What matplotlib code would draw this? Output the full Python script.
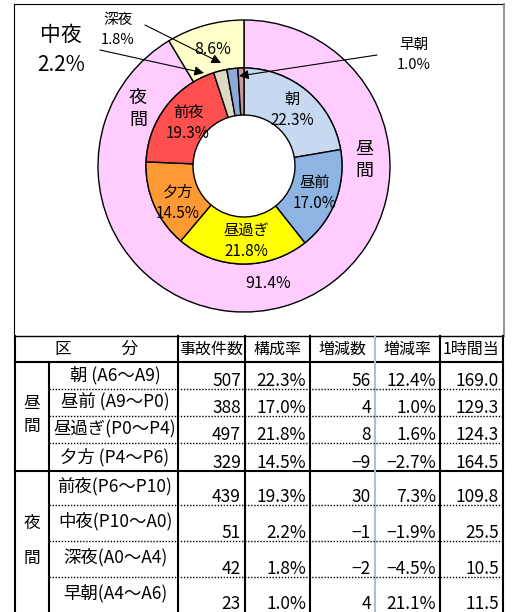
import matplotlib.pyplot as plt

plt.rcParams['font.family'] = ['Noto Sans CJK JP', 'DejaVu Sans']

# donut data
inner_labels = ['朝', '昼前', '昼過ぎ', '夕方', '前夜', '中夜', '深夜', '早朝']
inner_share = [22.3, 17.0, 21.8, 14.5, 19.3, 2.2, 1.8, 1.0]
inner_colors = ['#C6D9F1', '#8DB4E2', '#FFFF00', '#FF9933', '#FF5050',
                '#DDD9C4', '#8EA9D8', '#C89A9A']
outer_labels = ['昼間', '夜間']
outer_share = [91.4, 8.6]
outer_colors = ['#FFCCFF', '#FFFFCC']

# table data
periods = ['朝 (A6～A9)', '昼前 (A9～P0)', '昼過ぎ(P0～P4)', '夕方 (P4～P6)',
           '前夜(P6～P10)', '中夜(P10～A0)', '深夜(A0～A4)', '早朝(A4～A6)']
accidents = [507, 388, 497, 329, 439, 51, 42, 23]
change = [56, 4, 8, -9, 30, -1, -2, 4]
change_rate = [12.4, 1.0, 1.6, -2.7, 7.3, -1.9, -4.5, 21.1]
per_hour = [169.0, 129.3, 124.3, 164.5, 109.8, 25.5, 10.5, 11.5]
headers = ['事故件数', '構成率', '増減数', '増減率', '1時間当']

H = 612


def Y(y):
    return H - y


def sgn(v, fmt):
    s = fmt.format(abs(v))
    return ('−' + s) if v < 0 else s


fig = plt.figure(figsize=(5.12, 6.12), dpi=100)
ax = fig.add_axes([0, 0, 1, 1])

cx, cy = 244, Y(166)
ax.pie(outer_share, radius=146, center=(cx, cy), startangle=90,
       counterclock=False, colors=outer_colors, frame=True,
       wedgeprops=dict(width=48, edgecolor='black', linewidth=1))
ax.pie(inner_share, radius=98, center=(cx, cy), startangle=90,
       counterclock=False, colors=inner_colors, frame=True,
       wedgeprops=dict(width=47, edgecolor='black', linewidth=1))

ax.set_xlim(0, 512)
ax.set_ylim(0, H)
ax.axis('off')

# labels inside the inner ring
inner_pos = [(292, 110), (315, 193), (246, 241), (178, 203), (188, 123)]
for (x, y), lab, v in zip(inner_pos, inner_labels, inner_share):
    ax.text(x, Y(y), f'{lab}\n{v:.1f}%', ha='center', va='center',
            fontsize=11, linespacing=1.35)

ax.text(268, Y(284), f'{outer_share[0]:.1f}%', ha='center', va='center', fontsize=11.5)
ax.text(213, Y(50), f'{outer_share[1]:.1f}%', ha='center', va='center', fontsize=11.5)
ax.text(364, Y(160), '昼\n間', ha='center', va='center', fontsize=13, linespacing=1.3)
ax.text(138, Y(109), '夜\n間', ha='center', va='center', fontsize=13, linespacing=1.3)

# small slices with arrows
ax.text(61, Y(50), f'{inner_labels[5]}\n{inner_share[5]:.1f}%', ha='center',
        va='center', fontsize=15, linespacing=1.45)
ax.text(118, Y(30), f'{inner_labels[6]}\n{inner_share[6]:.1f}%', ha='center',
        va='center', fontsize=10.5, linespacing=1.6)
ax.text(414, Y(55), f'{inner_labels[7]}\n{inner_share[7]:.1f}%', ha='center',
        va='center', fontsize=10.5, linespacing=1.6)
arrow = dict(arrowstyle='-|>', color='black', lw=0.8, mutation_scale=14,
             shrinkA=0, shrinkB=0)
ax.annotate('', xy=(221, Y(63)), xytext=(145, Y(25)), arrowprops=arrow)
ax.annotate('', xy=(204, Y(73)), xytext=(100, Y(50)), arrowprops=arrow)
ax.annotate('', xy=(239, Y(76)), xytext=(377, Y(55)), arrowprops=arrow)

# chart frame
ax.plot([14, 14], [Y(4), Y(336)], color='black', lw=0.8)
ax.plot([14, 504], [Y(4), Y(4)], color='black', lw=0.8)
ax.plot([503.5, 503.5], [Y(4), Y(336)], color='#808080', lw=1.2)

# table grid
xl, xg = 15, 49
col_edges = [178, 245, 310, 375, 440, 503]
y_top, y_head = 336, 362
day_rows = [362, 389, 416, 443, 471]
night_rows = [471, 505, 541, 577, 613]
thick = 1.5

ax.plot([xl, 503], [Y(y_top), Y(y_top)], color='black', lw=1)
ax.plot([xl, 503], [Y(y_head), Y(y_head)], color='black', lw=thick)
ax.plot([xl, 503], [Y(471), Y(471)], color='black', lw=thick)
ax.plot([xl, xl], [Y(y_top), Y(H + 2)], color='black', lw=thick)
ax.plot([xg, xg], [Y(y_head), Y(H + 2)], color='black', lw=thick)
for x in col_edges:
    c = '#9DC3E6' if x == 375 else 'black'
    ax.plot([x, x], [Y(y_top), Y(H + 2)], color=c, lw=thick)
for rows in (day_rows, night_rows):
    for y in rows[1:-1]:
        ax.plot([xg, 503], [Y(y), Y(y)], color='black', lw=1,
                linestyle=(0, (1, 1.2)))

# header
ax.text((xl + col_edges[0]) / 2, Y(349), '区　　　分', ha='center', va='center', fontsize=12)
for i, h in enumerate(headers):
    ax.text((col_edges[i] + col_edges[i + 1]) / 2, Y(349), h, ha='center',
            va='center', fontsize=11.5)

# group labels
ax.text(32, Y(415), '昼\n間', ha='center', va='center', fontsize=12, linespacing=1.4)
ax.text(32, Y(541), '夜\n\n間', ha='center', va='center', fontsize=12, linespacing=1.05)

# body
bounds = list(zip(day_rows[:-1], day_rows[1:])) + list(zip(night_rows[:-1], night_rows[1:]))
for i, (y0, y1) in enumerate(bounds):
    ymid = (y0 + y1) / 2 if i < 4 else (y0 + y1) / 2 - 2
    ax.text(115, Y(ymid), periods[i], ha='center', va='center', fontsize=12.5)
    vals = [str(accidents[i]), f'{inner_share[i]:.1f}%', sgn(change[i], '{:d}'),
            sgn(change_rate[i], '{:.1f}%'), f'{per_hour[i]:.1f}']
    yb = min(y1, H) - 3
    for j, s in enumerate(vals):
        ax.text(col_edges[j + 1] - 4, Y(yb), s, ha='right', va='baseline', fontsize=12.5)

fig.savefig('out.png', dpi=100)
